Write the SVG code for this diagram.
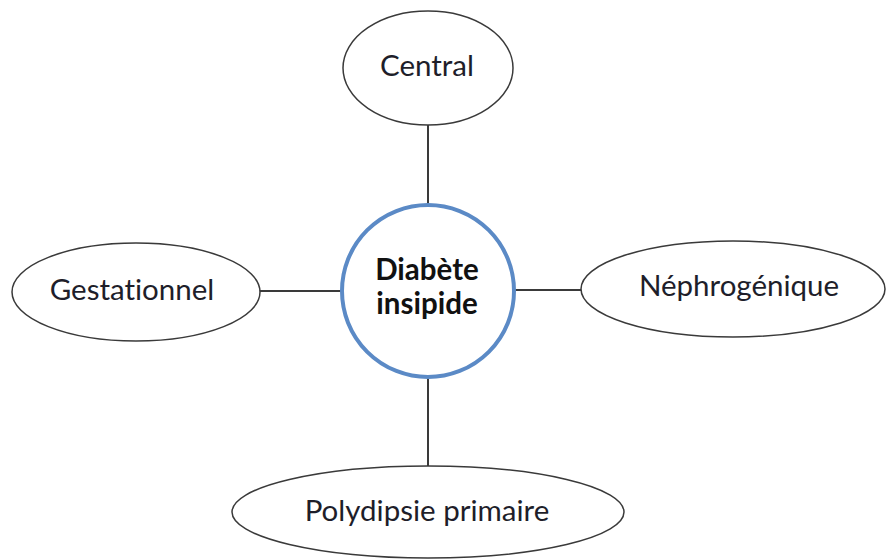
<svg xmlns="http://www.w3.org/2000/svg" width="886" height="559" viewBox="0 0 886 559">
  <style>
    .oval { fill: #ffffff; stroke: #3a3a3a; stroke-width: 1.5; }
    .hub { fill: #ffffff; stroke: #5b8ac6; stroke-width: 4; }
    .link { stroke: #3a3a3a; stroke-width: 2; fill: none; }
    .label { font-family: Lato, "Open Sans", sans-serif; font-size: 29.5px; fill: #1e1e2a; text-anchor: middle; font-variant-ligatures: none; }
    .hub-label { font-family: Lato, "Open Sans", sans-serif; font-size: 29.5px; font-weight: bold; fill: #111111; text-anchor: middle; font-variant-ligatures: none; }
  </style>
  <rect width="886" height="559" fill="#ffffff"/>

  <g id="connectors">
    <line class="link" x1="428" y1="125" x2="428" y2="205"/>
    <line class="link" x1="259" y1="291" x2="342" y2="291"/>
    <line class="link" x1="514" y1="290" x2="582" y2="290"/>
    <line class="link" x1="428" y1="377" x2="428" y2="467"/>
  </g>

  <g id="central">
    <ellipse class="oval" cx="428" cy="68" rx="85" ry="57"/>
    <text class="label" x="427" y="76">Central</text>
  </g>

  <g id="gestationnel">
    <ellipse class="oval" cx="136" cy="292" rx="124" ry="49"/>
    <text class="label" x="132" y="300">Gestationnel</text>
  </g>

  <g id="nephrogenique">
    <ellipse class="oval" cx="733" cy="289" rx="152" ry="48"/>
    <text class="label" x="739" y="296">Néphrogénique</text>
  </g>

  <g id="polydipsie">
    <ellipse class="oval" cx="428" cy="512" rx="196" ry="46"/>
    <text class="label" x="427" y="521">Polydipsie primaire</text>
  </g>

  <g id="diabete-insipide">
    <circle class="hub" cx="428" cy="291" r="86"/>
    <text class="hub-label" x="427" y="280">Diabète</text>
    <text class="hub-label" x="427" y="314">insipide</text>
  </g>
</svg>
